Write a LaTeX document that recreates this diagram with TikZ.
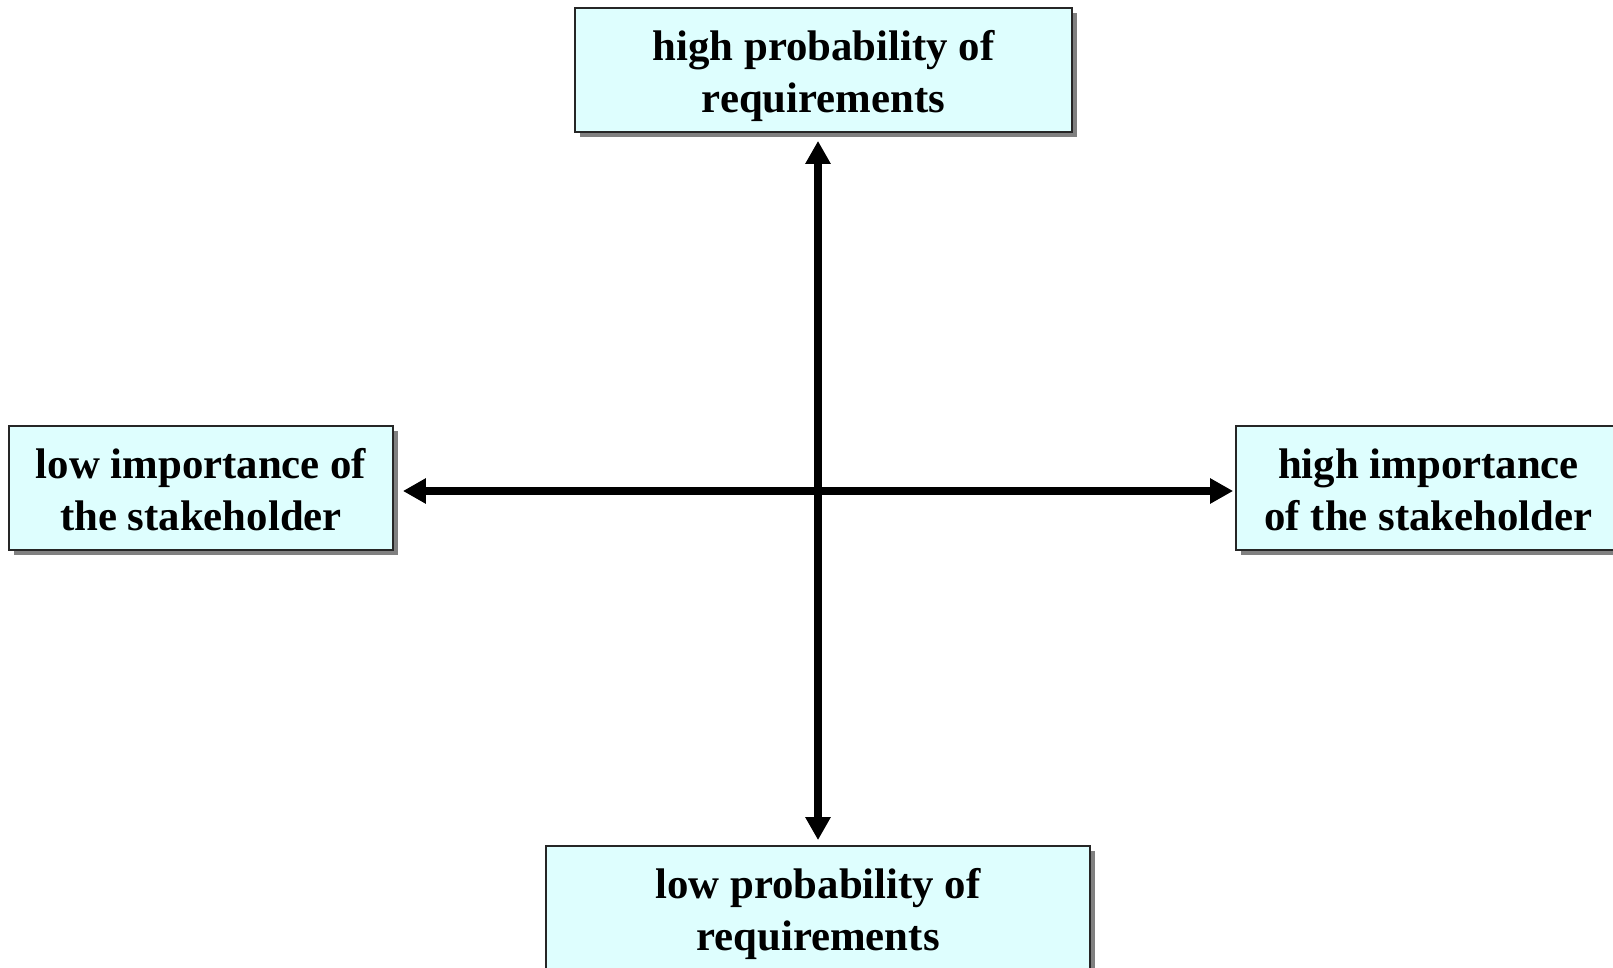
\documentclass[tikz,border=0pt]{standalone}
\usepackage{fontspec}
\setmainfont{Liberation Serif}
\usetikzlibrary{arrows.meta,shadows}
\definecolor{boxfill}{RGB}{222,254,254}
\definecolor{boxshadow}{RGB}{128,128,128}
% two centred lines, set a little below the box centre
\newcommand{\twolines}[2]{\raisebox{0pt}[\dimexpr\height+3pt\relax][\dimexpr\depth-3pt\relax]{\begin{tabular}{@{}c@{}}#1\\#2\end{tabular}}}
\tikzset{
  labelbox/.style={draw=black!85, line width=0.9pt, fill=boxfill,
    minimum height=62pt, inner sep=0pt,
    font=\fontsize{21.4pt}{26pt}\selectfont\bfseries,
    drop shadow={shadow xshift=2.6pt, shadow yshift=-2.6pt, fill=boxshadow, opacity=1}},
  axis/.style={line width=4pt, {Triangle[length=11.5pt,width=12pt]}-{Triangle[length=11.5pt,width=12pt]}}
}
\begin{document}
\begin{tikzpicture}[x=0.5pt,y=-0.5pt]
  \useasboundingbox (0,0) rectangle (1613,968);
  \node[labelbox, minimum width=248.5pt] (top) at (823.5,70) {\twolines{high probability of}{requirements}};
  \node[labelbox, minimum width=192pt] (left) at (201,488) {\twolines{low importance of}{the stakeholder}};
  \node[labelbox, minimum width=192.5pt] (right) at (1428.5,488) {\twolines{high importance}{of the stakeholder}};
  \node[labelbox, minimum width=272pt] (bottom) at (818,908) {\twolines{low probability of}{requirements}};
  \draw[axis, shorten <=4pt, shorten >=2.5pt] (top.south -| bottom.north) -- (bottom.north);
  \draw[axis, shorten <=4.5pt, shorten >=1pt] ([yshift=-1.5pt]left.east) -- ([yshift=-1.5pt]right.west);
\end{tikzpicture}
\end{document}
